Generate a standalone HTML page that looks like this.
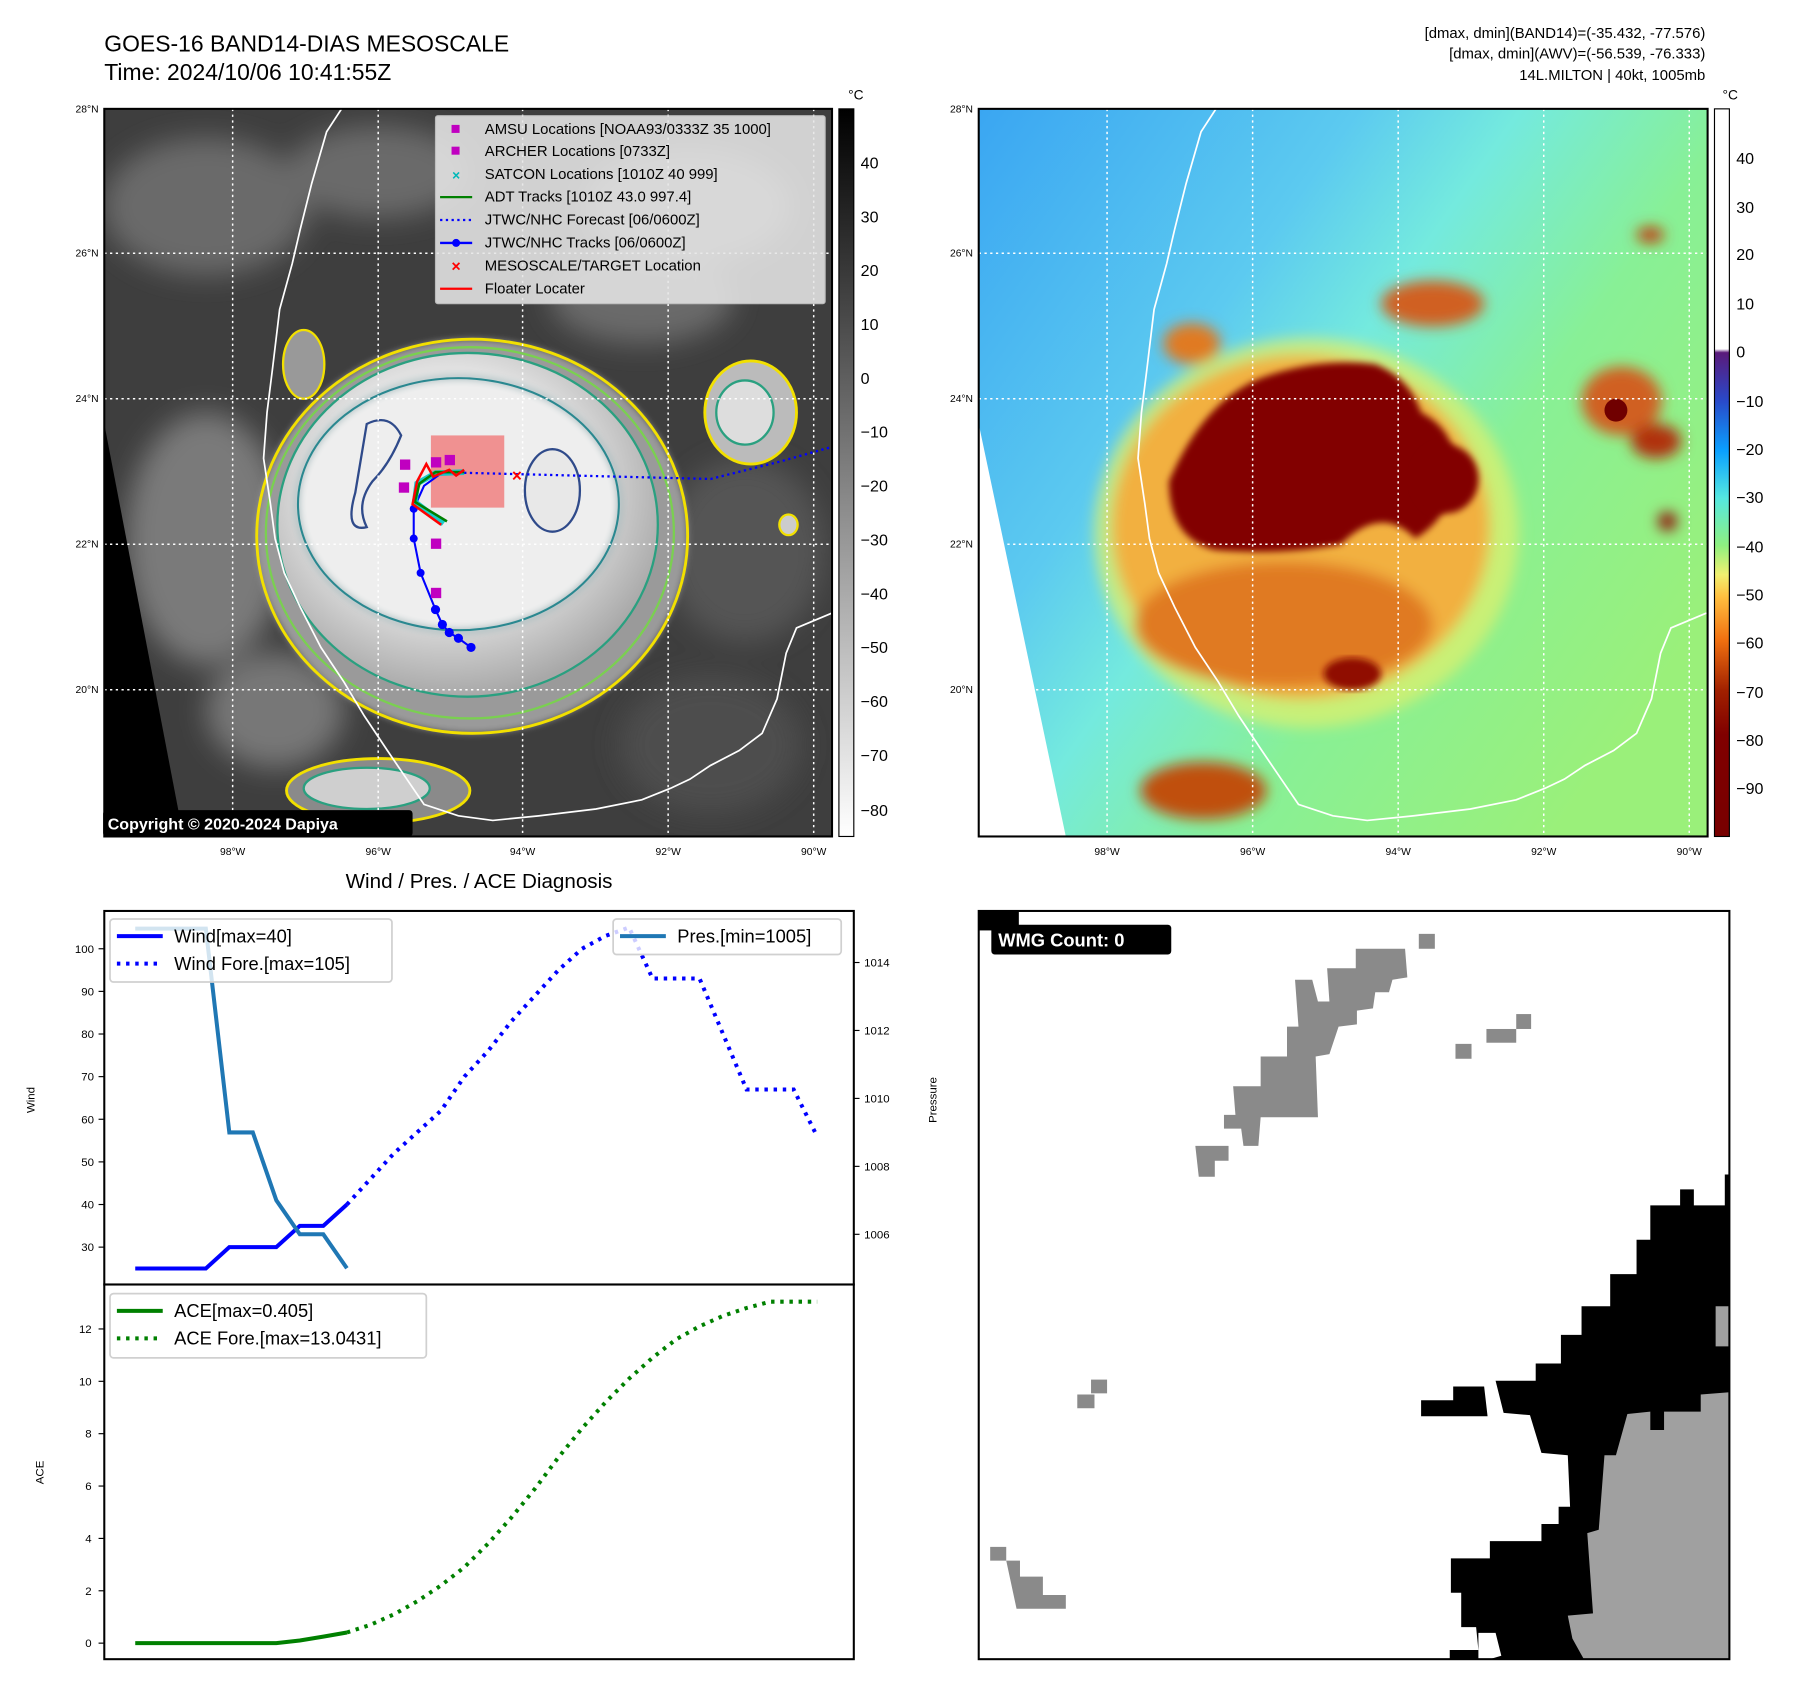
<!DOCTYPE html>
<html><head><meta charset="utf-8"><style>
html,body{margin:0;padding:0;background:#fff;}
svg{display:block;font-family:"Liberation Sans","DejaVu Sans",sans-serif;}
</style></head><body>
<svg id="fig" width="1797" height="1697" viewBox="0 0 1568 1481" preserveAspectRatio="none" xmlns="http://www.w3.org/2000/svg">
<defs>
  <clipPath id="clipL"><rect x="91" y="95" width="635" height="635"/></clipPath>
  <clipPath id="clipR"><rect x="854" y="95" width="636" height="635"/></clipPath>
  <filter id="blur6"><feGaussianBlur stdDeviation="6"/></filter>
  <filter id="blur3"><feGaussianBlur stdDeviation="3"/></filter>
  <filter id="blur12"><feGaussianBlur stdDeviation="12"/></filter>
  <linearGradient id="cbGray" x1="0" y1="0" x2="0" y2="1"><stop offset="0" stop-color="#000"/><stop offset="1" stop-color="#fff"/></linearGradient>
  <linearGradient id="cbColor" x1="0" y1="0" x2="0" y2="1">
    <stop offset="0" stop-color="#fff"/><stop offset="0.33" stop-color="#fff"/>
    <stop offset="0.335" stop-color="#5a1a7a"/><stop offset="0.40" stop-color="#2a48c8"/>
    <stop offset="0.47" stop-color="#0aa0ff"/><stop offset="0.535" stop-color="#55e8e0"/>
    <stop offset="0.60" stop-color="#8ef080"/><stop offset="0.64" stop-color="#f0f070"/>
    <stop offset="0.67" stop-color="#ffc040"/><stop offset="0.73" stop-color="#f07010"/>
    <stop offset="0.80" stop-color="#a02000"/><stop offset="0.86" stop-color="#800000"/>
    <stop offset="1" stop-color="#780000"/>
  </linearGradient>
  <linearGradient id="bgR" x1="0" y1="0" x2="1" y2="0.7">
    <stop offset="0" stop-color="#3aa6f2"/><stop offset="0.35" stop-color="#5ccaf0"/>
    <stop offset="0.5" stop-color="#74eade"/><stop offset="0.7" stop-color="#88f096"/>
    <stop offset="1" stop-color="#9af07a"/>
  </linearGradient>
  <radialGradient id="cloudL" cx="0.45" cy="0.4" r="0.6"><stop offset="0" stop-color="#f4f4f4"/><stop offset="0.6" stop-color="#e0e0e0"/><stop offset="1" stop-color="#a8a8a8"/></radialGradient>
</defs>

<!-- Titles -->
<text x="91" y="45" font-size="20">GOES-16 BAND14-DIAS MESOSCALE</text>
<text x="91" y="70" font-size="20">Time: 2024/10/06 10:41:55Z</text>
<g font-size="13" text-anchor="end">
  <text x="1488" y="33">[dmax, dmin](BAND14)=(-35.432, -77.576)</text>
  <text x="1488" y="51">[dmax, dmin](AWV)=(-56.539, -76.333)</text>
  <text x="1488" y="70">14L.MILTON | 40kt, 1005mb</text>
</g>

<!-- LEFT MAP -->
<g>
<g clip-path="url(#clipL)">
  <rect x="91" y="95" width="635" height="635" fill="#3e3e3e"/>
  <g filter="url(#blur12)" fill="#6a6a6a">
    <ellipse cx="180" cy="180" rx="90" ry="60"/><ellipse cx="330" cy="150" rx="80" ry="40"/>
    <ellipse cx="600" cy="180" rx="90" ry="50" fill="#7a7a7a"/><ellipse cx="560" cy="260" rx="80" ry="40"/>
    <ellipse cx="180" cy="470" rx="70" ry="110" fill="#7a7a7a"/><ellipse cx="240" cy="620" rx="60" ry="50" fill="#777"/>
    <ellipse cx="650" cy="480" rx="70" ry="80" fill="#555"/><ellipse cx="620" cy="650" rx="80" ry="60" fill="#4e4e4e"/>
  </g>
  <polygon points="91,370 160,730 91,730" fill="#000"/>
  <!-- storm -->
  <ellipse cx="412" cy="468" rx="188" ry="172" fill="#9a9a9a" filter="url(#blur3)"/>
  <ellipse cx="412" cy="468" rx="188" ry="172" fill="none" stroke="#f2e000" stroke-width="2.5"/>
  <ellipse cx="410" cy="465" rx="178" ry="162" fill="none" stroke="#7ad050" stroke-width="2"/>
  <ellipse cx="408" cy="458" rx="166" ry="150" fill="url(#cloudL)" stroke="#2aa080" stroke-width="2"/>
  <ellipse cx="400" cy="440" rx="140" ry="110" fill="#eeeeee" stroke="#2a8890" stroke-width="2" filter="url(#blur3)"/>
  <ellipse cx="400" cy="440" rx="140" ry="110" fill="none" stroke="#2a8890" stroke-width="1.8"/>
  <path d="M320,370 q20,-10 30,10 q-10,25 -25,40 q-15,20 -5,40 q-20,5 -10,-30 z" fill="none" stroke="#2f4a8a" stroke-width="2"/>
  <ellipse cx="482" cy="428" rx="24" ry="36" fill="#e8e8e8" stroke="#2f4a8a" stroke-width="2"/>
  <ellipse cx="330" cy="690" rx="80" ry="28" fill="#8a8a8a" stroke="#f2e000" stroke-width="2.5"/>
  <ellipse cx="320" cy="688" rx="55" ry="18" fill="#cfcfcf" stroke="#2aa080" stroke-width="2"/>
  <ellipse cx="655" cy="360" rx="40" ry="45" fill="#bbb" stroke="#f2e000" stroke-width="2.5"/>
  <ellipse cx="650" cy="360" rx="25" ry="28" fill="#ddd" stroke="#2aa080" stroke-width="2"/>
  <ellipse cx="265" cy="318" rx="18" ry="30" fill="#999" stroke="#f2e000" stroke-width="2"/>
  <ellipse cx="688" cy="458" rx="8" ry="9" fill="#ccc" stroke="#f2e000" stroke-width="2"/>
  <!-- grid -->
  <g stroke="#fff" stroke-width="1.3" stroke-dasharray="2,3">
    <line x1="91" y1="221" x2="726" y2="221"/><line x1="91" y1="348" x2="726" y2="348"/><line x1="91" y1="475" x2="726" y2="475"/><line x1="91" y1="602" x2="726" y2="602"/>
    <line x1="203" y1="95" x2="203" y2="730"/><line x1="330" y1="95" x2="330" y2="730"/><line x1="456" y1="95" x2="456" y2="730"/><line x1="583" y1="95" x2="583" y2="730"/><line x1="710" y1="95" x2="710" y2="730"/>
  </g>
  <polyline id="coastL" points="298,95 285,115 272,160 262,200 255,230 244,270 238,320 233,360 230,400 236,440 240,470 248,500 262,530 280,565 300,595 318,625 338,655 355,680 370,702 400,712 430,716 470,712 520,706 560,698 585,688 602,680 620,668 645,655 665,640 678,610 686,570 695,548 726,535" fill="none" stroke="#fff" stroke-width="1.5"/>
  <!-- overlays -->
  <rect x="376" y="380" width="64" height="63" fill="#f08080" opacity="0.85"/>
  <polyline points="380,412 620,418 680,403 726,390" fill="none" stroke="#0000ff" stroke-width="2" stroke-dasharray="2,3"/>
  <g>
    <polyline points="411,565 400,557 392,552 386,545 380,532 367,500 361,470 361,444 370,424 385,413 405,412" fill="none" stroke="#0000ff" stroke-width="1.8"/>
    <g fill="#0000ff"><circle cx="411" cy="565" r="4"/><circle cx="400" cy="557" r="4"/><circle cx="392" cy="552" r="4"/><circle cx="386" cy="545" r="4"/><circle cx="380" cy="532" r="4"/><circle cx="367" cy="500" r="3.5"/><circle cx="361" cy="470" r="3.5"/><circle cx="361" cy="444" r="3.5"/></g>
  </g>
  <polyline points="387,457 362,438 364,422 380,413 405,412" fill="none" stroke="#00c8c8" stroke-width="5" opacity="0.9"/>
  <polyline points="390,455 362,438 366,422 380,412 405,412" fill="none" stroke="#008000" stroke-width="2.2"/>
  <polyline points="385,458 360,440 364,420 372,405 378,416 392,410 398,415 405,410" fill="none" stroke="#ff0000" stroke-width="2.2"/>
  <g fill="#c000c0"><rect x="349" y="401" width="9" height="9"/><rect x="348" y="421" width="9" height="9"/><rect x="376" y="399" width="9" height="9"/><rect x="388" y="397" width="9" height="9"/><rect x="376" y="470" width="9" height="9"/><rect x="376" y="513" width="9" height="9"/></g>
  <text x="451" y="420" fill="#ff0000" font-size="15" font-weight="bold" text-anchor="middle">×</text>
</g>
<rect x="91" y="95" width="635" height="635" fill="none" stroke="#000" stroke-width="1.8"/>
<!-- legend -->
<g>
  <rect x="380" y="101" width="340" height="164" fill="#e6e6e6" opacity="0.88" stroke="#ccc" rx="2"/>
  <g font-size="13">
    <rect x="394" y="109" width="7" height="7" fill="#c000c0"/><text x="423" y="117">AMSU Locations [NOAA93/0333Z 35 1000]</text>
    <rect x="394" y="128" width="7" height="7" fill="#c000c0"/><text x="423" y="136">ARCHER Locations [0733Z]</text>
    <text x="398" y="157" fill="#00b8b8" font-size="12" text-anchor="middle" font-weight="bold">×</text><text x="423" y="156">SATCON Locations [1010Z 40 999]</text>
    <line x1="384" y1="172" x2="412" y2="172" stroke="#008000" stroke-width="2"/><text x="423" y="176">ADT Tracks [1010Z 43.0 997.4]</text>
    <line x1="384" y1="192" x2="412" y2="192" stroke="#0000ff" stroke-width="2" stroke-dasharray="2,3"/><text x="423" y="196">JTWC/NHC Forecast [06/0600Z]</text>
    <line x1="384" y1="212" x2="412" y2="212" stroke="#0000ff" stroke-width="2"/><circle cx="398" cy="212" r="3.5" fill="#0000ff"/><text x="423" y="216">JTWC/NHC Tracks [06/0600Z]</text>
    <text x="398" y="237" fill="#ff0000" font-size="14" text-anchor="middle" font-weight="bold">×</text><text x="423" y="236">MESOSCALE/TARGET Location</text>
    <line x1="384" y1="252" x2="412" y2="252" stroke="#ff0000" stroke-width="2"/><text x="423" y="256">Floater Locater</text>
  </g>
</g>
<rect x="90" y="707" width="270" height="23" rx="3" fill="#000"/>
<text x="94" y="724" fill="#fff" font-size="14" font-weight="bold">Copyright © 2020-2024 Dapiya</text>
</g>
<!-- left map axis labels -->
<g font-size="9" text-anchor="end">
  <text x="86" y="98">28°N</text><text x="86" y="224">26°N</text><text x="86" y="351">24°N</text><text x="86" y="478">22°N</text><text x="86" y="605">20°N</text>
</g>
<g font-size="9" text-anchor="middle">
  <text x="203" y="746">98°W</text><text x="330" y="746">96°W</text><text x="456" y="746">94°W</text><text x="583" y="746">92°W</text><text x="710" y="746">90°W</text>
</g>
<rect x="732" y="95" width="13" height="635" fill="url(#cbGray)" stroke="#000" stroke-width="1"/>
<text x="740" y="87" font-size="12">°C</text>
<g font-size="14">
  <text x="751" y="147">40</text><text x="751" y="194">30</text><text x="751" y="241">20</text><text x="751" y="288">10</text><text x="751" y="335">0</text><text x="751" y="382">−10</text><text x="751" y="429">−20</text><text x="751" y="476">−30</text><text x="751" y="523">−40</text><text x="751" y="570">−50</text><text x="751" y="617">−60</text><text x="751" y="664">−70</text><text x="751" y="712">−80</text>
</g>

<!-- RIGHT MAP -->
<g>
<g clip-path="url(#clipR)">
  <rect x="854" y="95" width="636" height="635" fill="url(#bgR)"/>
  <polygon points="854,370 930,730 854,730" fill="#fff"/>
  <g filter="url(#blur6)">
    <ellipse cx="1140" cy="465" rx="185" ry="170" fill="#d8f070" opacity="0.8"/>
    <ellipse cx="1135" cy="460" rx="165" ry="150" fill="#f2b040"/>
    <ellipse cx="1120" cy="545" rx="130" ry="55" fill="#e07a20"/>
    <ellipse cx="1250" cy="265" rx="45" ry="20" fill="#d06020"/>
    <ellipse cx="1040" cy="300" rx="25" ry="18" fill="#e07a20"/>
    <ellipse cx="1050" cy="690" rx="55" ry="25" fill="#c05010"/>
    <ellipse cx="1415" cy="350" rx="35" ry="30" fill="#d06020"/>
    <ellipse cx="1445" cy="385" rx="22" ry="15" fill="#b03010"/>
    <ellipse cx="1455" cy="455" rx="8" ry="8" fill="#900000"/>
    <ellipse cx="1440" cy="205" rx="12" ry="7" fill="#c04010"/>
  </g>
  <path d="M1020,420 Q1050,350 1100,330 Q1150,312 1200,318 Q1230,330 1240,360 Q1270,375 1270,410 Q1268,450 1235,470 Q1205,440 1170,475 Q1120,485 1060,480 Q1020,470 1020,420 Z" fill="#820000" filter="url(#blur3)"/>
  <ellipse cx="1262" cy="418" rx="28" ry="30" fill="#820000" filter="url(#blur3)"/>
  <ellipse cx="1410" cy="358" rx="10" ry="10" fill="#700000"/>
  <ellipse cx="1180" cy="588" rx="25" ry="14" fill="#901000" filter="url(#blur3)"/>
  <g stroke="#fff" stroke-width="1.3" stroke-dasharray="2,3">
    <line x1="854" y1="221" x2="1490" y2="221"/><line x1="854" y1="348" x2="1490" y2="348"/><line x1="854" y1="475" x2="1490" y2="475"/><line x1="854" y1="602" x2="1490" y2="602"/>
    <line x1="966" y1="95" x2="966" y2="730"/><line x1="1093" y1="95" x2="1093" y2="730"/><line x1="1220" y1="95" x2="1220" y2="730"/><line x1="1347" y1="95" x2="1347" y2="730"/><line x1="1474" y1="95" x2="1474" y2="730"/>
  </g>
  <use href="#coastL" transform="translate(763,0)"/>
</g>
<rect x="854" y="95" width="636" height="635" fill="none" stroke="#000" stroke-width="1.8"/>
</g>
<g font-size="9" text-anchor="end">
  <text x="849" y="98">28°N</text><text x="849" y="224">26°N</text><text x="849" y="351">24°N</text><text x="849" y="478">22°N</text><text x="849" y="605">20°N</text>
</g>
<g font-size="9" text-anchor="middle">
  <text x="966" y="746">98°W</text><text x="1093" y="746">96°W</text><text x="1220" y="746">94°W</text><text x="1347" y="746">92°W</text><text x="1474" y="746">90°W</text>
</g>
<rect x="1496" y="95" width="13" height="635" fill="url(#cbColor)" stroke="#000" stroke-width="1"/>
<text x="1503" y="87" font-size="12">°C</text>
<g font-size="14">
  <text x="1515" y="143">40</text><text x="1515" y="186">30</text><text x="1515" y="227">20</text><text x="1515" y="270">10</text><text x="1515" y="312">0</text><text x="1515" y="355">−10</text><text x="1515" y="397">−20</text><text x="1515" y="439">−30</text><text x="1515" y="482">−40</text><text x="1515" y="524">−50</text><text x="1515" y="566">−60</text><text x="1515" y="609">−70</text><text x="1515" y="651">−80</text><text x="1515" y="693">−90</text>
</g>

<!-- WMG panel -->
<g>
  <rect x="854" y="795" width="655" height="653" fill="#fff"/>
  <g fill="#8a8a8a">
    <polygon points="1183,828 1226,828 1228,853 1215,855 1212,866 1200,866 1198,880 1184,882 1184,894 1168,896 1160,920 1148,922 1150,975 1100,975 1098,1000 1085,1000 1083,985 1068,985 1068,973 1078,973 1076,948 1100,948 1100,922 1123,922 1123,896 1133,896 1130,855 1145,855 1150,874 1160,874 1158,845 1183,845"/>
    <rect x="1238" y="815" width="14" height="13"/><rect x="1297" y="898" width="26" height="12"/><rect x="1323" y="885" width="13" height="13"/><rect x="1270" y="911" width="14" height="13"/>
    <polygon points="1043,1000 1072,1000 1072,1013 1060,1013 1060,1027 1046,1027"/>
    <rect x="940" y="1217" width="15" height="12"/><rect x="952" y="1204" width="14" height="12"/>
    <rect x="864" y="1350" width="14" height="12"/><polygon points="878,1362 890,1362 890,1376 910,1376 910,1392 930,1392 930,1404 887,1404"/>
  </g>
  <polygon fill="#000" points="1509,1025 1509,1448 1265,1448 1265,1440 1290,1440 1288,1420 1275,1420 1275,1390 1266,1390 1266,1360 1300,1360 1300,1345 1345,1345 1345,1330 1360,1330 1360,1315 1370,1315 1368,1270 1345,1268 1335,1235 1312,1233 1305,1205 1340,1205 1340,1190 1362,1190 1362,1165 1380,1165 1380,1140 1405,1140 1405,1112 1428,1112 1428,1082 1440,1082 1440,1052 1466,1052 1466,1038 1478,1038 1478,1052 1505,1052 1505,1025"/>
  <polygon fill="#000" points="1240,1222 1268,1222 1268,1210 1295,1210 1298,1236 1240,1236"/>
  <polygon fill="#fff" points="1290,1448 1290,1425 1305,1425 1310,1445 1300,1448"/>
  <polygon fill="#a0a0a0" points="1509,1215 1484,1217 1484,1232 1452,1232 1452,1248 1440,1248 1440,1232 1420,1234 1410,1270 1400,1270 1395,1335 1385,1338 1390,1408 1368,1410 1372,1430 1382,1448 1509,1448"/>
  <rect x="1497" y="1140" width="12" height="35" fill="#a0a0a0"/>
  <rect x="854" y="795" width="655" height="653" fill="none" stroke="#000" stroke-width="1.8"/>
  <rect x="854" y="795" width="35" height="17" fill="#000"/>
  <rect x="865" y="807" width="157" height="26" rx="3" fill="#000"/>
  <text x="871" y="826" fill="#fff" font-size="16" font-weight="bold">WMG Count: 0</text>
</g>

<!-- Charts -->
<text x="418" y="775" font-size="18" text-anchor="middle">Wind / Pres. / ACE Diagnosis</text>
<g id="charts"></g>
</svg>
<script>
// ---- chart data ----
const obsIndex = [0,1,2,3,4,5,6,7,8,9];
const windObs = [25,25,25,25,30,30,30,35,35,40];
const presObs = [1015,1015,1015,1015,1009,1009,1007,1006,1006,1005];
const aceObs = [0,0,0,0,0,0,0,0.1,0.25,0.405];
const foreIndex = [9,10,11,12,13,14,15,16,17,18,19,20,21,22,23,24,25,26,27,28,29];
const windFore = [40,46,52,57,62,70,76,83,89,95,100,103,105,93,93,93,80,67,67,67,56];
const aceFore = [0.405,0.7,1.1,1.6,2.2,2.9,3.8,4.8,5.9,7.1,8.2,9.2,10.1,10.9,11.6,12.1,12.5,12.8,13.04,13.04,13.04];
const windTicks = [30,40,50,60,70,80,90,100];
const presTicks = [1006,1008,1010,1012,1014];
const aceTicks = [0,2,4,6,8,10,12];

const NS = 'http://www.w3.org/2000/svg';
const root = document.getElementById('charts');
const xS = i => 118 + i * (595 / 29);
const yWind = v => 828 - (v - 100) * 3.72;
const yPres = p => 840 - (p - 1014) * 29.65;
const yAce = a => 1434 - a * 22.85;
function mk(tag, attrs, parent) {
  const e = document.createElementNS(NS, tag);
  for (const k in attrs) e.setAttribute(k, attrs[k]);
  (parent || root).appendChild(e);
  return e;
}
function line(xs, ys, color, w, dash, name) {
  const pts = xs.map((x, i) => xS(x).toFixed(1) + ',' + ys[i].toFixed(1)).join(' ');
  const p = mk('polyline', {points: pts, fill: 'none', stroke: color, 'stroke-width': w});
  if (dash) p.setAttribute('stroke-dasharray', dash);
  
  
  return p;
}
const box1 = mk('rect', {x: 91, y: 795, width: 654, height: 326, fill: 'none', stroke: '#000', 'stroke-width': 1.8});


const box2 = mk('rect', {x: 91, y: 1121, width: 654, height: 327, fill: 'none', stroke: '#000', 'stroke-width': 1.8});


windTicks.forEach(v => {
  const y = yWind(v);
  mk('line', {x1: 86, y1: y, x2: 91, y2: y, stroke: '#000', 'stroke-width': 1});
  const t = mk('text', {x: 82, y: y + 3.5, 'font-size': 10, 'text-anchor': 'end'});
  t.textContent = v;
  
  
});
presTicks.forEach(v => {
  const y = yPres(v);
  mk('line', {x1: 745, y1: y, x2: 750, y2: y, stroke: '#000', 'stroke-width': 1});
  const t = mk('text', {x: 754, y: y + 3.5, 'font-size': 10});
  t.textContent = v;
  
  
});
aceTicks.forEach(v => {
  const y = yAce(v);
  mk('line', {x1: 86, y1: y, x2: 91, y2: y, stroke: '#000', 'stroke-width': 1});
  const t = mk('text', {x: 80, y: y + 3.5, 'font-size': 10, 'text-anchor': 'end'});
  t.textContent = v;
  
  
});
[['Wind', 30, 960, 'wind-axis-title'], ['Pressure', 817, 960, 'pressure-axis-title'], ['ACE', 38, 1285, 'ace-axis-title']].forEach(a => {
  const t = mk('text', {x: a[1], y: a[2], 'font-size': 10, 'text-anchor': 'middle', transform: 'rotate(-90 ' + a[1] + ' ' + a[2] + ')'});
  t.textContent = a[0];
  
  
});
line(foreIndex, windFore.map(yWind), '#0000ff', 3.5, '3,5', 'wind-forecast-line');
line(obsIndex, windObs.map(yWind), '#0000ff', 3.5, null, 'wind-line');
line(obsIndex, presObs.map(yPres), '#1f77b4', 3.5, null, 'pressure-line');
line(foreIndex, aceFore.map(yAce), '#008000', 3.5, '3,5', 'ace-forecast-line');
line(obsIndex, aceObs.map(yAce), '#008000', 3.5, null, 'ace-line');
function legend(x, y, w, h, items, name) {
  const g = mk('g', {});
  
  
  mk('rect', {x: x, y: y, width: w, height: h, rx: 3, fill: '#fff', 'fill-opacity': 0.8, stroke: '#d0d0d0', 'stroke-width': 1.5}, g);
  items.forEach((it, i) => {
    const yy = y + 15 + i * 24;
    const l = mk('line', {x1: x + 6, y1: yy, x2: x + 46, y2: yy, stroke: it[1], 'stroke-width': 3.5}, g);
    if (it[2]) l.setAttribute('stroke-dasharray', '3,5');
    const t = mk('text', {x: x + 56, y: yy + 5.5, 'font-size': 16}, g);
    t.textContent = it[0];
  });
}
legend(96, 802, 246, 55, [['Wind[max=40]', '#0000ff'], ['Wind Fore.[max=105]', '#0000ff', 1]], 'wind-legend');
legend(535, 802, 199, 31, [['Pres.[min=1005]', '#1f77b4']], 'pressure-legend');
legend(96, 1129, 276, 56, [['ACE[max=0.405]', '#008000'], ['ACE Fore.[max=13.0431]', '#008000', 1]], 'ace-legend');
</script>
</body></html>
